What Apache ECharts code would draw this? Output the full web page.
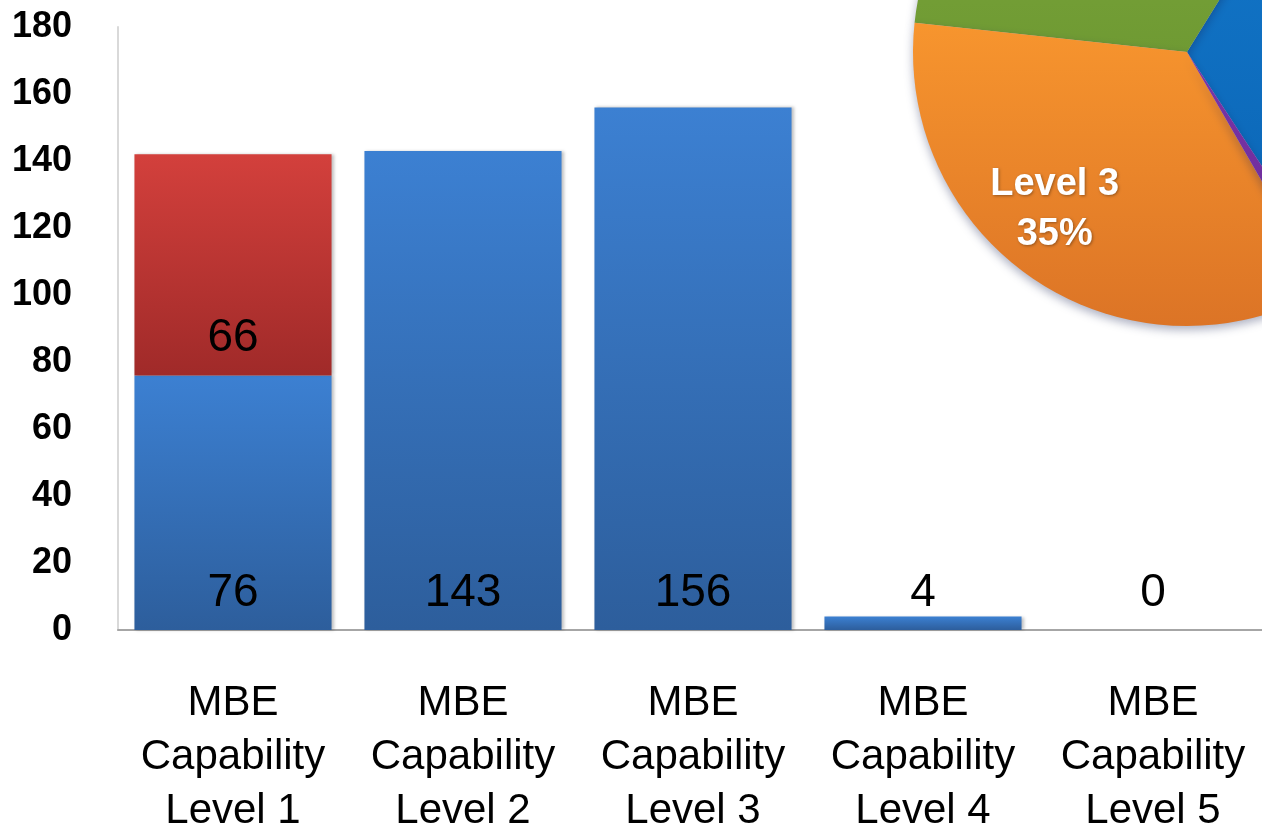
<!DOCTYPE html>
<html>
<head>
<meta charset="utf-8">
<script src="https://cdn.jsdelivr.net/npm/echarts@6/dist/echarts.min.js"></script>
<style>
  html, body { margin: 0; padding: 0; background: #fff; }
  #myChart { width: 1262px; height: 830px; }
</style>
</head>
<body>
<div id="myChart"></div>
<script>
  // 柱状图数据
  const categories = ['MBE\nCapability\nLevel 1', 'MBE\nCapability\nLevel 2', 'MBE\nCapability\nLevel 3', 'MBE\nCapability\nLevel 4', 'MBE\nCapability\nLevel 5']
  const baseValues = [76, 143, 156, 4, 0]
  const extraValues = [66, '-', '-', '-', '-']
  // 饼图数据
  const pieNames = ['Level 1', 'Level 2', 'Level 3', 'Level 4', 'Level 5']
  const pieValues = [142, 143, 156, 4, 0]
  // 只有这一块的标签落在画面内
  const pieLabelShown = ['Level 3']
  const pieColors = [['#1479cc', '#0a64b4'], ['#80aa3e', '#6f9a33'], ['#f7952e', '#dc7426'], ['#7a35a8', '#6a2a96'], ['#3fa9c9', '#3596b4']]

  const grad = (top, bottom) => new echarts.graphic.LinearGradient(0, 0, 0, 1, [
    { offset: 0, color: top },
    { offset: 1, color: bottom }
  ])

  const valueLabel = {
    show: true,
    position: 'insideBottom',
    distance: 14,
    fontFamily: "'Liberation Sans Narrow', 'Liberation Sans'",
    fontSize: 46,
    color: '#000'
  }

  let myChart = echarts.init(document.getElementById('myChart'))
  myChart.setOption({
    animation: false,
    grid: {
      left: 118,
      top: 27,
      width: 1150,
      height: 603,
      outerBoundsMode: 'none'
    },
    xAxis: {
      type: 'category',
      data: categories,
      axisLine: {
        lineStyle: { color: '#a6a6a6', width: 2 }
      },
      axisTick: { show: false },
      axisLabel: {
        interval: 0,
        margin: 46,
        fontFamily: 'Liberation Sans',
        fontSize: 42,
        lineHeight: 54,
        color: '#000'
      }
    },
    yAxis: {
      type: 'value',
      min: 0,
      max: 180,
      interval: 20,
      splitLine: { show: false },
      axisLine: {
        show: true,
        lineStyle: { color: '#d9d9d9', width: 2 }
      },
      axisTick: { show: false },
      axisLabel: {
        margin: 46,
        fontFamily: 'Liberation Sans',
        fontWeight: 'bold',
        fontSize: 36,
        color: '#000'
      }
    },
    series: [
      {
        name: 'Base',
        type: 'bar',
        stack: 'total',
        barCategoryGap: '14.3%',
        data: baseValues,
        itemStyle: {
          color: grad('#3c80d2', '#2d5e9c'),
          shadowColor: 'rgba(0,0,0,0.25)',
          shadowBlur: 3,
          shadowOffsetX: 2
        },
        label: valueLabel
      },
      {
        name: 'Extra',
        type: 'bar',
        stack: 'total',
        data: extraValues,
        itemStyle: {
          color: grad('#d3403c', '#a02a29'),
          shadowColor: 'rgba(0,0,0,0.25)',
          shadowBlur: 3,
          shadowOffsetX: 2
        },
        label: valueLabel
      },
      {
        name: 'Share',
        type: 'pie',
        center: [1187, 52],
        radius: [0, 274],
        clockwise: false,
        startAngle: -56.7,
        silent: true,
        itemStyle: {
          shadowColor: 'rgba(20,30,80,0.35)',
          shadowBlur: 10,
          shadowOffsetY: 4
        },
        labelLine: { show: false },
        labelLayout: { dx: -56, dy: 40 },
        data: pieNames.map((n, i) => ({
          name: n,
          value: pieValues[i],
          itemStyle: { color: grad(pieColors[i][0], pieColors[i][1]) },
          label: { show: pieLabelShown.indexOf(n) >= 0 }
        })),
        label: {
          position: 'inside',
          formatter: (p) => p.name + '\n' + Math.round(p.percent) + '%',
          fontFamily: "'Liberation Sans Narrow', 'Liberation Sans'",
          fontWeight: 'bold',
          fontSize: 38,
          lineHeight: 50,
          color: '#fff',
          textShadowColor: 'rgba(0,0,0,0.35)',
          textShadowBlur: 3,
          textShadowOffsetX: 1,
          textShadowOffsetY: 1
        }
      }
    ]
  })
</script>
</body>
</html>
